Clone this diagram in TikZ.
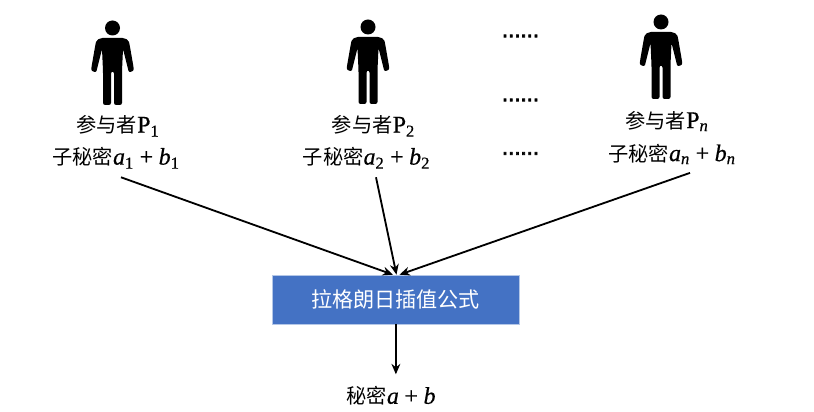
\documentclass[tikz,border=0pt]{standalone}
\usepackage{amsmath, amssymb}
\usepackage{fontspec}
\setmainfont{Noto Sans CJK SC}
\newfontfamily\dotfont{Liberation Sans}[FakeBold=3]
\newfontfamily\varfont{Liberation Serif}[Scale=1.18, FakeBold=0.6]
\usetikzlibrary{arrows.meta, positioning, shapes.geometric, calc}

\newcommand{\mv}[1]{\text{\varfont\itshape #1}}
\newcommand{\mn}[1]{\text{\varfont #1}}
\newcommand{\mplus}{\mskip 5mu\text{\varfont +}\mskip 5mu}

\tikzset{
    label text/.style={font=\fontsize{14.4pt}{17pt}\selectfont, inner sep=0pt},
    share text/.style={label text, minimum height=0.9cm},
    more dots/.style={font=\dotfont\fontsize{15.8pt}{17pt}\selectfont, inner sep=0pt},
    link/.style={line width=1.3pt, -{Stealth[length=2.6mm, width=2.2mm]}},
    person/.pic={
        \fill (0,0) circle (7.5);
        \fill[rounded corners=1.5] (-8,10) .. controls (-13,10) and (-16,12) .. (-17,16)
            -- (-21,39) .. controls (-21.5,43.5) and (-16.5,45) .. (-15.5,41)
            -- (-10.5,21) -- (-9.5,43) -- (-9.5,77) -- (-1.5,77) -- (-1.5,43.5)
            -- (1.5,43.5) -- (1.5,77) -- (9.5,77) -- (9.5,43) -- (10.5,21)
            -- (15.5,41) .. controls (16.5,45) and (21.5,43.5) .. (21,39)
            -- (17,16) .. controls (16,12) and (13,10) .. (8,10) -- cycle;
    },
}

\begin{document}
\begin{tikzpicture}[x=0.025cm, y=-0.025cm]
    \useasboundingbox (0,0) rectangle (814,412);

    % Participants
    \pic at (112.5,28) {person};
    \pic at (368,27) {person};
    \pic at (661,22) {person};

    % Names
    \node[label text] (name1) at (118,126) {参与者\mn{P}$_{\mn{1}}$};
    \node[label text] (name2) at (373.5,126) {参与者\mn{P}$_{\mn{2}}$};
    \node[label text] (namen) at (667,121) {参与者\mn{P}$_{\mv{n}}$};

    % Shares
    \node[share text] (share1) at (116,158) {子秘密$\mv{a}_{\mn{1}}\mplus\mv{b}_{\mn{1}}$};
    \node[share text] (share2) at (366.5,158) {子秘密$\mv{a}_{\mn{2}}\mplus\mv{b}_{\mn{2}}$};
    \node[share text] (sharen) at (672,154) {子秘密$\mv{a}_{\mv{n}}\mplus\mv{b}_{\mv{n}}$};

    % Omitted participants
    \node[more dots] (dots1) at (520.5,36) {......};
    \node[more dots] (dots2) at (520.5,100) {......};
    \node[more dots] (dots3) at (520.5,153.5) {......};

    % Interpolation box
    \node[fill={rgb,255:red,68;green,114;blue,196}, draw={rgb,255:red,180;green,199;blue,231}, line width=0.3pt,
        text=white, minimum width=6.18cm, minimum height=1.23cm, inner sep=0pt,
        font=\fontsize{15pt}{17pt}\selectfont] (formula) at (395.5,299.5) {拉格朗日插值公式};

    % Result
    \node[label text] (result) at (391,396) {秘密$\mv{a}\mplus\mv{b}$};

    % Arrows
    \draw[link] ([xshift=5*0.025cm,yshift=-1*0.025cm]share1.south) -- ([xshift=-2.5*0.025cm]formula.north);
    \draw[link] ([xshift=9.5*0.025cm,yshift=-1*0.025cm]share2.south) -- ([xshift=1*0.025cm]formula.north);
    \draw[link] ([xshift=18*0.025cm,yshift=-0.6*0.025cm]sharen.south) -- ([xshift=4*0.025cm]formula.north);
    \draw[link] ([xshift=0.4*0.025cm]formula.south) -- ($(formula.south)+(0.4,50)$);
\end{tikzpicture}
\end{document}
